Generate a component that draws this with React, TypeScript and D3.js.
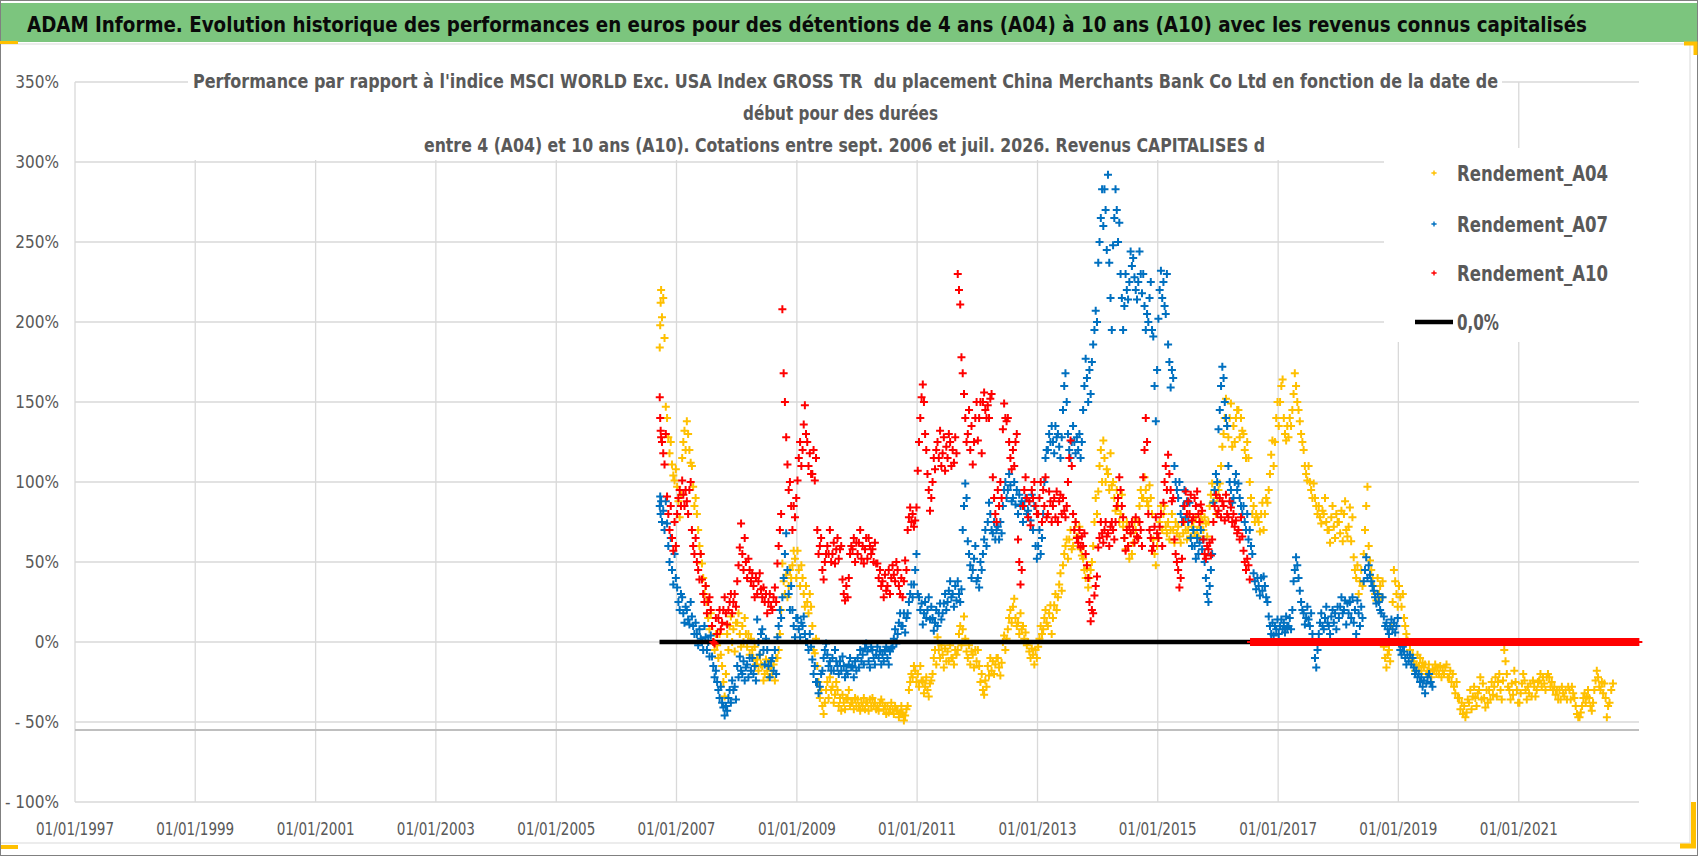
import React, { useMemo } from "react";
import * as d3 from "d3";

const WIDTH = 1698;
const HEIGHT = 856;

const titleText =
  "ADAM Informe. Evolution historique des performances en euros pour des détentions de 4 ans (A04) à 10 ans (A10) avec les revenus connus capitalisés";
const subtitleLines = [
  "Performance par rapport à l'indice MSCI WORLD Exc. USA Index GROSS TR  du placement China Merchants Bank Co Ltd en fonction de la date de",
  "début pour des durées",
  "entre 4 (A04) et 10 ans (A10). Cotations entre sept. 2006 et juil. 2026. Revenus CAPITALISES d",
];

const seriesNames = ["Rendement_A04", "Rendement_A07", "Rendement_A10"];
const seriesColors = ["#FFC000", "#0070C0", "#FF0000"];
const zeroLineName = "0,0%";
const seriesStart = "2006-09-20";
const zeroLineDates = ["2006-09-20", "2022-12-31"];

const xTickLabels = [
  "01/01/1997", "01/01/1999", "01/01/2001", "01/01/2003", "01/01/2005", "01/01/2007", "01/01/2009",
  "01/01/2011", "01/01/2013", "01/01/2015", "01/01/2017", "01/01/2019", "01/01/2021",
];
const yTicks = [-1, -0.5, 0, 0.5, 1, 1.5, 2, 2.5, 3, 3.5];
const axisCrossing = -0.55;

// one string per calendar month, values in %
const a04 = [
  "184 198 212 220", "203 215 190 147", "140 128 118 125", "111 104 101 108",
  "97 88 78 92", "115 125 132 120", "138 130 120 112", "110 97 85 90", "80 70 60 55", "49 40 30 35", "25 15 8 18", "10 0 -5 5", "-2 -10 5 -8", "-15 -25 -34 -20", "5 -5 10 16", "0 8 -6 12",
  "12 18 5 -3", "10 0 15 5", "-3 5 -8 2", "-5 -10 -3 -14", "-11 -18 -8 -14", "-15 -24 -20 -11", "-18 -22 -12 -16", "-20 -14 -24 -10", "-10 -5 5 20", "49 38 30 42", "28 35 45 40", "48 57 52 40",
  "57 45 35 48", "40 30 22 35", "25 18 30 22", "10 -5 -7 2", "-15 -25 -35 -30", "-40 -45 -38 -30", "-25 -35 -22 -30", "-28 -38 -33 -25", "-30 -40 -35 -43", "-33 -38 -42 -36", "-35 -30 -40 -38", "-38 -42 -35 -40",
  "-36 -40 -43 -38", "-40 -35 -42 -38", "-38 -43 -36 -40", "-35 -40 -38 -42", "-40 -43 -38 -36", "-38 -42 -40 -45", "-40 -44 -42 -38", "-42 -45 -40 -43", "-43 -47 -44 -40", "-45 -49 -46 -42", "-40 -30 -25 -20", "-22 -15 -18 -25",
  "-20 -28 -15 -24", "-25 -32 -28 -22", "-30 -34 -26 -24", "-20 -10 -5 -14", "3 -5 -10 -2", "-8 -16 -4 -12", "-6 -12 -2 -10", "-10 -14 -5 -8", "-5 5 10 -2", "8 16 2 -6", "-10 -2 -14 -6", "-8 -16 -5 -12",
  "-5 -15 -25 -20", "-30 -33 -24 -28", "-15 -21 -10 -18", "-12 -20 -14 -10", "-10 -16 -21 -13", "0 4 -5 2", "8 15 20 12", "22 27 15 10", "12 5 18 8", "10 2 6 -2", "0 -6 -10 -4", "-8 -14 -5 -10",
  "-3 2 10 5", "8 15 20 12", "10 18 23 5", "15 23 30 20", "28 36 43 32", "48 55 60 64", "52 64 70 58", "60 70 75 66", "65 72 58 54", "52 45 40 46", "34 40 45 50", "60 75 90 80",
  "94 110 120 100", "126 115 100 108", "105 95 118 98", "100 90 82 95", "85 75 80 92", "72 65 58 75", "60 52 68 55", "62 75 70 66", "75 85 95 90", "90 103 95 88", "85 98 90 80", "64 55 48 60",
  "65 75 85 70", "80 85 72 68", "75 64 70 80", "70 62 75 68", "72 66 62 75", "68 75 70 64", "70 80 66 72", "75 68 78 70", "66 72 80 76", "70 78 74 66", "75 85 92 99", "88 95 80 90",
  "95 99 110 122", "130 140 152 135", "128 140 149 122", "135 125 140 145", "145 128 140 132", "130 120 115 125", "115 100 90 80", "85 75 80 78", "75 69 80 87", "70 80 90 87", "95 105 117 126", "110 125 140 150",
  "135 150 160 164", "140 130 126 135", "128 140 135 145", "155 168 160 150", "145 138 130 125", "120 110 105 101", "110 100 95 90", "99 90 85 80", "85 78 74 82", "80 90 75 70", "70 62 78 85", "72 65 80 75",
  "75 68 82 63", "80 88 70 66", "72 84 63 78", "53 45 40 48", "30 38 45 35", "55 70 85 97", "60 51 45 40", "35 30 26 40", "30 35 28 38", "-3 -10 -16 -8", "-5 -12 10 25", "45 38 30 22",
  "35 28 22 30", "15 10 5 1", "0 -5 -10 -8", "-12 -18 -14 -8", "-15 -10 -18 -13", "-16 -14 -20 -18", "-14 -20 -22 -17", "-18 -14 -20 -16", "-20 -15 -22 -18", "-20 -16 -14 -22", "-22 -18 -25 -20", "-28 -32 -25 -35",
  "-35 -42 -38 -45", "-40 -47 -44 -36", "-38 -30 -42 -34", "-28 -35 -40 -32", "-30 -22 -36 -26", "-35 -41 -30 -38", "-30 -36 -25 -33", "-28 -22 -34 -25", "-20 -30 -36 -24", "-5 -12 -20 -28", "-30 -36 -26 -33", "-18 -25 -30 -38",
  "-38 -32 -26 -20", "-24 -30 -36 -28", "-32 -26 -34 -24", "-28 -34 -30 -25", "-24 -20 -28 -22", "-26 -30 -22 -20", "-22 -28 -25 -30", "-28 -33 -30 -36", "-30 -36 -28 -32", "-34 -30 -36 -28", "-30 -36 -28 -32", "-35 -40 -45 -47",
  "-47 -44 -40 -35", "-32 -38 -34 -30", "-35 -40 -43 -38", "-30 -24 -18 -22", "-28 -30 -25 -32", "-26 -35 -47 -40", "-38 -30 -26",
];

const a07 = [
  "85 91 80 88", "75 82 70 88", "74 60 50 65", "45 36 55 40",
  "34 25 20 30", "28 18 12 22", "20 14 11 25", "16 10 5 12", "5 -2 8 2", "0 -5 10 3", "-5 0 -9 4", "-9 -15 -22 -18", "-25 -30 -35 -28", "-38 -41 -46 -40", "-43 -35 -30 -38", "-24 -30 -28 -36",
  "-15 -22 -9 -18", "-20 -12 -24 -16", "-14 -22 -10 -18", "-10 -20 -15 -24", "14 0 -8 5", "8 -5 -14 2", "-5 -15 -22 -12", "-10 -18 -5 -20", "3 10 20 15", "28 40 55 68", "45 30 20 35", "20 10 3 15",
  "15 8 3 12", "10 16 5 0", "0 -5 5 -3", "-11 -20 -15 -25", "-25 -32 -28 -20", "-18 -10 -5 -1", "-8 -15 -12 -18", "-10 -18 -5 -12", "-15 -20 -12 -18", "-9 -15 -22 -18", "-20 -14 -10 -16", "-15 -22 -12 -18",
  "-10 -16 -5 -12", "-8 -14 -4 -1", "-6 -12 -16 -3", "-5 -10 -14 -8", "-3 -10 -6 -14", "-8 -12 -5 -3", "-10 -14 -6 -4", "-3 2 8 -1", "5 12 18 10", "10 18 6 15", "18 25 30 36", "28 36 45 55",
  "30 28 20 24", "11 18 25 15", "20 28 14 22", "15 7 12 20", "10 18 24 14", "18 24 30 20", "25 32 38 28", "30 22 35 26", "38 30 25 33", "70 85 99 90", "63 55 48 40", "45 52 60 38",
  "40 34 50 45", "55 64 70 60", "75 87 80 70", "68 75 64 70", "72 64 75 68", "85 95 100 90", "95 105 98 88", "90 100 86 95", "80 92 85 88", "75 85 90 80", "82 88 76 92", "70 85 60 52",
  "60 70 55 65", "80 100 115 120", "120 130 125 135", "125 118 135 128", "130 122 115 128", "145 160 168 150", "130 120 115 125", "135 125 118 128", "120 130 115 125", "145 160 177 165", "150 170 155 175", "186 195 207 200",
  "237 250 265 283", "260 283 270 245", "292 237 215 195", "248 265 283 270", "250 262 230 215", "195 210 230 220", "214 225 244 235", "240 228 220 214", "225 244 230 218", "230 210 195 205", "200 215 225 195", "191 160 138 170",
  "202 220 232 215", "225 210 205 230", "186 175 159 170", "165 110 100 95", "90 100 80 75", "85 95 78 88", "75 87 65 60", "70 60 52 65", "55 62 70 58", "64 50 40 30", "25 35 45 55", "87 95 105 100",
  "133 145 160 172", "165 150 140 135", "110 100 95 87", "90 100 105 95", "99 90 85 80", "85 75 70 80", "64 70 60 55", "43 38 33 40", "35 29 40 32", "41 35 28 25", "16 10 5 12", "4 10 8 14",
  "5 10 14 8", "12 6 16 9", "10 15 8 20", "38 45 53 48", "40 32 25 20", "18 11 15 22", "14 10 18 5", "0 -10 -16 -5", "5 12 18 10", "8 15 22 12", "10 5 16 20", "12 18 8 22",
  "15 22 28 18", "20 26 11 24", "18 25 15 28", "12 20 5 26", "18 10 22 15", "38 45 53 40", "48 42 38 35", "32 28 24 30", "25 20 18 28", "16 10 12 8", "5 10 14 8", "12 6 10 15",
  "-1 -5 -8 -3", "-6 -10 -14 -8", "-12 -8 -14 -10", "-16 -20 -18 -22", "-20 -25 -22 -28", "-24 -32 -26 -22", "-20 -25 -28",
];

const z = "0 0 0 0";
const a10 = [
  "153 140 132 128", "125 118 111 130", "91 80 70 85", "65 57 75 60",
  "80 90 95 85", "101 92 85 95", "88 80 95 100", "70 60 55 65", "50 45 39 55", "39 30 25 35", "18 25 28 20", "10 0 -1 15", "5 15 20 8", "12 20 28 18", "11 20 25 30", "18 25 30 22",
  "38 48 59 74", "55 45 65 50", "40 52 45 38", "43 35 28 40", "30 38 43 33", "28 34 25 30", "18 25 30 22", "20 28 34 25", "49 60 70 80", "208 168 150 128", "111 95 100 85", "70 85 78 90",
  "101 115 125 110", "120 136 148 130", "125 110 118 105", "105 120 101 115", "70 55 60 65", "45 39 50 55", "60 55 70 50", "55 62 49 58", "65 52 58 60", "39 30 26 35", "28 40 55 60", "58 65 50 62",
  "55 62 70 52", "60 49 58 65", "52 65 60 55", "58 50 62 49", "49 40 45 35", "38 28 42 32", "35 45 30 40", "48 42 38 50", "45 35 30 40", "28 38 51 45", "70 78 84 75", "80 72 76 84",
  "107 125 140 153", "161 150 130 120", "105 95 82 90", "100 115 108 120", "125 115 132 110", "118 128 107 122", "115 130 125 110", "120 112 128 118", "230 220 211 178", "168 155 140 125", "130 145 120 135", "111 125 140 150",
  "126 140 150 118", "150 156 145 140", "148 140 152 155", "103 90 80 75", "95 85 100 90", "133 149 140 138", "140 125 115 108", "120 110 125 130", "64 50 36 45", "85 95 103 90", "78 88 73 95", "90 100 85 80",
  "80 90 100 75", "95 85 103 78", "80 94 88 75", "85 90 78 94", "75 88 92 80", "90 82 78 85", "100 115 126 110", "80 70 75 65", "62 70 59 66", "60 68 55 48", "40 25 13 20", "18 29 35 41",
  "59 65 75 68", "62 70 75 66", "68 60 72 75", "70 64 75 85", "90 103 95 85", "78 65 57 70", "60 72 68 75", "70 62 78 66", "65 75 70 60", "103 120 140 125", "80 70 65 57", "60 72 78 68",
  "65 72 80 60", "87 100 110 95", "117 105 95 88", "90 64 55 50", "45 34 40 52", "75 85 94 80", "88 80 92 76", "78 90 85 94", "80 75 86 82", "64 55 52 60", "58 62 54 64", "75 85 92 80",
  "82 90 78 88", "85 76 92 80", "78 88 84 75", "80 72 76 68", "70 64 78 66", "57 50 45 52", "48 39 0 0", z, z, z, z, z,
  z, z, z, z, z, z, z, z, z, z, z, z,
  z, z, z, z, z, z, z, z, z, z, z, z,
  z, z, z, z, z, z, z, z, z, z, z, z,
  z, z, z, z, z, z, z, z, z, z, z, z,
  z, z, z, z, z, z, z, z, z, z, z, z,
  z, z, z, z, z, z, z, z, z, z, z, z,
];

const seriesData = [a04, a07, a10];

const FONT = "'Liberation Sans Narrow', 'DejaVu Sans Condensed', 'Liberation Sans', sans-serif";
const GREY_TEXT = "#595959";
const GRID = "#D9D9D9";

const parseDate = d3.timeParse("%Y-%m-%d");
const parseTick = d3.timeParse("%d/%m/%Y");

function toPoints(months: string[], startStr: string) {
  const start = parseDate(startStr) as Date;
  const first = d3.timeMonth.floor(start);
  return months.flatMap((s, i) => {
    const m0 = i === 0 ? start : d3.timeMonth.offset(first, i);
    const m1 = d3.timeMonth.offset(first, i + 1);
    const vals = s.trim().split(/\s+/).map(Number);
    return vals.map((v, j) => ({
      date: new Date(+m0 + ((+m1 - +m0) * (j + 0.5)) / vals.length),
      value: v / 100,
    }));
  });
}

function plusPath(pts: [number, number][], r: number) {
  const p = d3.path();
  pts.forEach(([cx, cy]) => {
    p.moveTo(cx - r, cy);
    p.lineTo(cx + r, cy);
    p.moveTo(cx, cy - r);
    p.lineTo(cx, cy + r);
  });
  return p.toString();
}

function yLabel(v: number) {
  const pct = Math.round(Math.abs(v) * 100);
  return v < 0 ? `- ${pct}%` : `${pct}%`;
}

export default function App() {
  const x = d3
    .scaleTime()
    .domain([new Date(1997, 0, 1), new Date(2023, 0, 1)])
    .range([75, 1639]);
  const y = d3.scaleLinear().domain([-1, 3.5]).range([802, 82]);

  const paths = useMemo(
    () =>
      seriesData.map((months) =>
        plusPath(
          toPoints(months, seriesStart).map((d) => [x(d.date), y(d.value)] as [number, number]),
          4
        )
      ),
    []
  );

  const zeroLine = d3.line<Date>()
    .x((d) => x(d))
    .y(() => y(0))(zeroLineDates.map((s) => parseDate(s) as Date));

  const [x0, x1] = x.range();
  const legendRows = [173, 224, 273, 322];

  return (
    <svg
      width={WIDTH}
      height={HEIGHT}
      style={{ position: "absolute", left: 0, top: 0, background: "#fff" }}
      fontFamily={FONT}
    >
      <rect x={0} y={0} width={WIDTH} height={HEIGHT} fill="#fff" />
      {/* banner */}
      <rect x={1} y={3} width={WIDTH - 2} height={39} fill="#7CC57E" />
      <line x1={0} x2={WIDTH} y1={44} y2={44} stroke={GRID} />
      <text x={27} y={32} fontSize={21} fontWeight="bold" fill="#0a0a0a" textLength={1560} lengthAdjust="spacingAndGlyphs">
        {titleText}
      </text>

      {/* grid */}
      {yTicks.map((t) => (
        <line key={t} x1={x0} x2={x1} y1={y(t)} y2={y(t)} stroke={GRID} strokeWidth={1.3} />
      ))}
      {xTickLabels.map((s) => {
        const px = x(parseTick(s) as Date);
        return <line key={s} x1={px} x2={px} y1={y(3.5)} y2={y(-1)} stroke={GRID} strokeWidth={1.3} />;
      })}
      <line x1={x0} x2={x1} y1={y(axisCrossing)} y2={y(axisCrossing)} stroke="#BFBFBF" strokeWidth={1.8} />

      {/* axis labels */}
      {yTicks.map((t) => (
        <text key={t} x={59} y={y(t)} dy="0.36em" textAnchor="end" fontSize={17} fill={GREY_TEXT}>
          {yLabel(t)}
        </text>
      ))}
      {xTickLabels.map((s) => (
        <text
          key={s}
          x={x(parseTick(s) as Date) - 39}
          y={835}
          fontSize={17}
          fill={GREY_TEXT}
          textLength={78}
          lengthAdjust="spacingAndGlyphs"
        >
          {s}
        </text>
      ))}

      {/* series */}
      <path d={paths[0]} stroke={seriesColors[0]} strokeWidth={2} fill="none" />
      <path d={paths[1]} stroke={seriesColors[1]} strokeWidth={2} fill="none" />
      <path d={zeroLine ?? ""} stroke="#000" strokeWidth={4.5} fill="none" />
      <path d={paths[2]} stroke={seriesColors[2]} strokeWidth={2} fill="none" />

      {/* chart title */}
      <rect x={188} y={66} width={1314} height={94} fill="#fff" />
      {[
        { x: 193, y: 88, w: 1305 },
        { x: 743, y: 120, w: 195 },
        { x: 424, y: 152, w: 841 },
      ].map((l, i) => (
        <text
          key={i}
          x={l.x}
          y={l.y}
          fontSize={20}
          fontWeight="bold"
          fill={GREY_TEXT}
          textLength={l.w}
          lengthAdjust="spacingAndGlyphs"
          style={{ whiteSpace: "pre" }}
        >
          {subtitleLines[i]}
        </text>
      ))}

      {/* legend */}
      <rect x={1384} y={148} width={262} height={194} fill="#fff" />
      {seriesNames.map((n, i) => (
        <g key={n}>
          <path d={plusPath([[1434, legendRows[i]]], 2.6)} stroke={seriesColors[i]} strokeWidth={1.4} />
          <text x={1457} y={legendRows[i]} dy="0.36em" fontSize={22} fontWeight="bold" fill={GREY_TEXT} textLength={151} lengthAdjust="spacingAndGlyphs">
            {n}
          </text>
        </g>
      ))}
      <line x1={1415} x2={1453} y1={legendRows[3]} y2={legendRows[3]} stroke="#000" strokeWidth={4.5} />
      <text x={1457} y={legendRows[3]} dy="0.36em" fontSize={22} fontWeight="bold" fill={GREY_TEXT} textLength={42} lengthAdjust="spacingAndGlyphs">
        {zeroLineName}
      </text>

      {/* frame */}
      <line x1={1690} x2={1690} y1={44} y2={843} stroke={GRID} />
      <line x1={0} x2={1690} y1={843} y2={843} stroke={GRID} />
      <rect x={0.5} y={0.5} width={WIDTH - 1} height={HEIGHT - 1} fill="none" stroke="#808080" />
      <rect x={0} y={41} width={18} height={3} fill="#FFC000" />
      <rect x={1} y={845} width={17} height={4} fill="#FFC000" />
      <path d="M1684,43.5H1695.5V55" stroke="#FFC000" strokeWidth={4} fill="none" />
      <path d="M1693.5,802V846H1680" stroke="#FFC000" strokeWidth={5} fill="none" />
    </svg>
  );
}
